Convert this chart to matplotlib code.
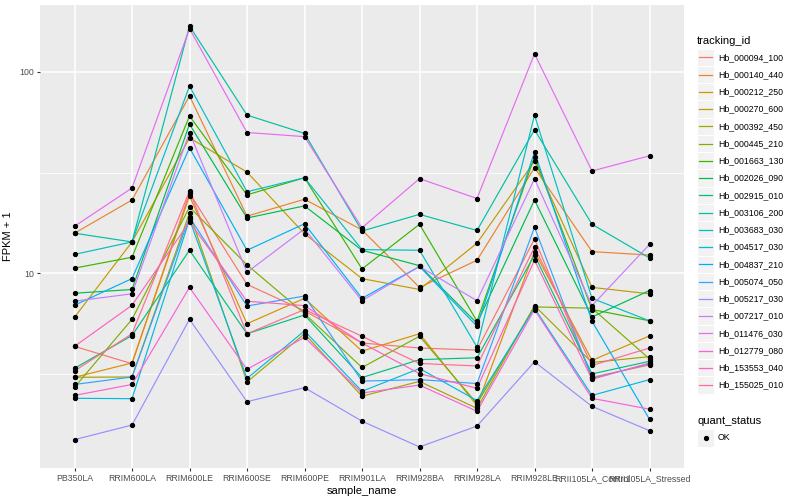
import numpy as np
import matplotlib as mpl
mpl.use("Agg")
import matplotlib.pyplot as plt
from matplotlib.patches import Rectangle
from matplotlib.lines import Line2D
from matplotlib.ticker import FixedLocator, NullFormatter

plt.rcParams['font.family'] = ['Liberation Sans', 'DejaVu Sans']

#%% data (FPKM + 1)
samples = ["PB350LA", "RRIM600LA", "RRIM600LE", "RRIM600SE", "RRIM600PE",
           "RRIM901LA", "RRIM928BA", "RRIM928LA", "RRIM928LE",
           "RRII105LA_Control", "RRII105LA_Stressed"]

tracking_ids = ["Hb_000094_100", "Hb_000140_440", "Hb_000212_250", "Hb_000270_600",
                "Hb_000392_450", "Hb_000445_210", "Hb_001663_130", "Hb_002026_090",
                "Hb_002915_010", "Hb_003106_200", "Hb_003683_030", "Hb_004517_030",
                "Hb_004837_210", "Hb_005074_050", "Hb_005217_030", "Hb_007217_010",
                "Hb_011476_030", "Hb_012779_080", "Hb_153553_040", "Hb_155025_010"]

# ggplot hue palette, 20 levels
colors = ["#F8766D", "#EA8331", "#D89000", "#C09B00", "#A3A500", "#7CAE00",
          "#39B600", "#00BB4E", "#00BF7D", "#00C1A3", "#00BFC4", "#00BAE0",
          "#00B0F6", "#35A2FF", "#9590FF", "#C77CFF", "#E76BF3", "#FA62DB",
          "#FF62BC", "#FF6C91"]

hb_000094_100 = [4.33, 3.55, 25.0, 8.8, 6.5, 4.5, 4.25, 4.15, 14.8, 3.04, 3.5]
hb_000140_440 = [15.8, 23.1, 76, 19.2, 23.3, 16.4, 8.5, 11.6, 33.4, 12.8, 12.3]
hb_000212_250 = [3.04, 3.58, 24.2, 5.61, 7.5, 4.1, 5.0, 2.2, 12.8, 3.69, 4.88]
hb_000270_600 = [6.04, 14.3, 47, 31.8, 15.7, 9.4, 8.3, 14.1, 36, 8.5, 7.9]
hb_000392_450 = [3.04, 3.05, 19.9, 2.88, 5.0, 2.45, 2.9, 2.13, 6.9, 3.6, 3.85]
hb_000445_210 = [2.71, 5.9, 21.3, 11.0, 6.3, 3.4, 4.86, 2.25, 6.8, 6.7, 3.75]
hb_001663_130 = [10.6, 12.0, 60.4, 24.5, 29.8, 10.5, 17.5, 5.77, 37.9, 6.6, 5.8]
hb_002026_090 = [7.95, 8.3, 55, 18.8, 21.6, 13.0, 10.9, 5.64, 23.1, 6.06, 8.2]
hb_002915_010 = [3.37, 4.9, 13.0, 5.0, 6.2, 3.03, 3.72, 3.8, 12.3, 3.16, 3.65]
hb_003106_200 = [15.8, 14.3, 169, 61, 49.5, 16.2, 19.6, 16.3, 51.6, 17.5, 11.9]
hb_003683_030 = [12.4, 14.3, 85, 25.4, 29.8, 13.1, 13.0, 4.3, 61, 7.5, 5.8]
hb_004517_030 = [2.39, 2.38, 18.5, 3.0, 5.17, 2.59, 3.36, 2.33, 6.7, 2.47, 2.96]
hb_004837_210 = [6.93, 9.4, 42, 13.0, 17.6, 7.5, 10.8, 5.45, 40, 5.77, 1.88]
hb_005074_050 = [2.8, 3.05, 19.0, 6.87, 7.7, 2.91, 2.96, 2.83, 16.9, 3.0, 3.55]
hb_005217_030 = [1.49, 1.76, 5.9, 2.3, 2.7, 1.84, 1.37, 1.74, 3.63, 2.18, 1.65]
hb_007217_010 = [7.26, 7.9, 50, 10.1, 16.6, 7.3, 10.8, 7.3, 29.4, 6.9, 13.9]
hb_011476_030 = [17.1, 26.5, 164, 50, 47.7, 16.8, 29.5, 23.5, 123, 32.2, 38.3]
hb_012779_080 = [2.47, 2.8, 8.5, 3.33, 4.8, 2.54, 2.78, 2.06, 6.6, 2.39, 2.11]
hb_153553_040 = [4.33, 6.93, 18.0, 7.26, 6.9, 4.5, 3.17, 2.68, 11.6, 2.97, 3.58]
hb_155025_010 = [3.27, 5.0, 25.6, 5.0, 6.6, 4.86, 3.56, 3.46, 13.5, 3.48, 4.25]

series = [hb_000094_100, hb_000140_440, hb_000212_250, hb_000270_600, hb_000392_450,
          hb_000445_210, hb_001663_130, hb_002026_090, hb_002915_010, hb_003106_200,
          hb_003683_030, hb_004517_030, hb_004837_210, hb_005074_050, hb_005217_030,
          hb_007217_010, hb_011476_030, hb_012779_080, hb_153553_040, hb_155025_010]

quant_status = ["OK"]

#%% figure
W, H = 800, 500
fig = plt.figure(figsize=(W / 100, H / 100), dpi=100)
ax = fig.add_axes([40 / W, 1 - 468 / H, 644 / W, 463 / H])
ax.set_facecolor("#EBEBEB")

for vals, col in zip(series, colors):
    ax.plot(samples, vals, color=col, lw=0.85, zorder=2)
for vals in series:
    ax.plot(samples, vals, ls="none", marker="o", ms=2.8, color="black", zorder=3)

ax.set_yscale("log")
all_vals = np.log10(np.concatenate([np.array(s) for s in series]))
span = all_vals.max() - all_vals.min()
ax.set_ylim(10 ** (all_vals.min() - 0.05 * span), 10 ** (all_vals.max() + 0.05 * span))
ax.set_xlim(-0.6, len(samples) - 0.4)

ax.yaxis.set_major_locator(FixedLocator([10, 100]))
ax.yaxis.set_minor_locator(FixedLocator([10 ** 0.5, 10 ** 1.5]))
ax.yaxis.set_minor_formatter(NullFormatter())
ax.set_yticklabels(["10", "100"])

ax.grid(True, which="major", color="white", lw=1.1, zorder=0)
ax.grid(True, which="minor", axis="y", color="white", lw=0.55, zorder=0)
ax.set_axisbelow(True)
for sp in ax.spines.values():
    sp.set_visible(False)
ax.tick_params(which="major", length=2.5, width=0.8, color="#333333",
               labelcolor="#4D4D4D", labelsize=6.3, pad=2)
ax.tick_params(which="minor", length=0)

ax.set_xlabel("sample_name", fontsize=8, labelpad=2)
ax.set_ylabel("FPKM + 1", fontsize=8, labelpad=4)

#%% legends (drawn by hand to get ggplot-like key boxes)
def fx(px):
    return px / W

def fy(py):
    return 1 - py / H

fig.text(fx(697), fy(40.7), "tracking_id", fontsize=8, va="center", ha="left")
step = 17.25
for i, (name, col) in enumerate(zip(tracking_ids, colors)):
    yc = 57.3 + i * step
    fig.patches.append(Rectangle((fx(697), fy(yc + step / 2)), 17 / W, step / H,
                                 transform=fig.transFigure, fc="#F2F2F2", ec="white", lw=0.8))
    fig.lines.append(Line2D([fx(699), fx(712)], [fy(yc), fy(yc)], color=col, lw=0.9,
                            transform=fig.transFigure))
    fig.text(fx(718), fy(yc), name, fontsize=6.3, va="center", ha="left")

fig.text(fx(697), fy(421), "quant_status", fontsize=8, va="center", ha="left")
for j, st in enumerate(quant_status):
    yc = 438 + j * step
    fig.patches.append(Rectangle((fx(697), fy(yc + step / 2)), 17 / W, step / H,
                                 transform=fig.transFigure, fc="#F2F2F2", ec="white", lw=0.8))
    fig.lines.append(Line2D([fx(705.5)], [fy(yc)], marker="o", ms=2.8, color="black",
                            ls="none", transform=fig.transFigure))
    fig.text(fx(718), fy(yc), st, fontsize=6.3, va="center", ha="left")

fig.savefig("out.png", dpi=100, facecolor="white")
